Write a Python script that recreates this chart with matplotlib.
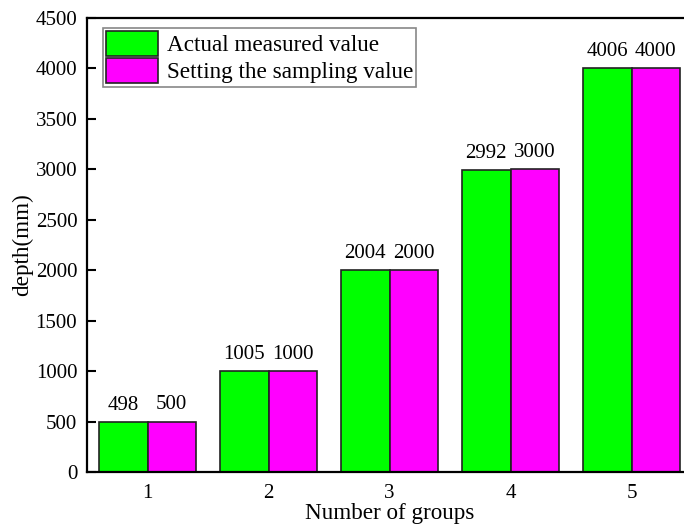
import matplotlib
matplotlib.use("Agg")
import matplotlib.pyplot as plt
import numpy as np

groups = ["1", "2", "3", "4", "5"]
actual = [498, 1005, 2004, 2992, 4006]
setting = [500, 1000, 2000, 3000, 4000]
series_names = ["Actual measured value", "Setting the sampling value"]
yticks = [0, 500, 1000, 1500, 2000, 2500, 3000, 3500, 4000, 4500]

plt.rcParams['font.family'] = ['Liberation Serif', 'DejaVu Serif']

fig = plt.figure(figsize=(6.84, 5.30), dpi=100)
ax = fig.add_axes([87/684, (530-472)/530, 605/684, 454/530])

x = np.arange(1, len(groups) + 1)
w = 0.4
ax.bar(x - w/2, actual, w, color='#00ff00', edgecolor='#222222', linewidth=1.2, label=series_names[0])
ax.bar(x + w/2, setting, w, color='#ff00ff', edgecolor='#222222', linewidth=1.2, label=series_names[1])

for xi, v in zip(x - w/2, actual):
    ax.text(xi, v + 70, str(v), ha='center', va='bottom', fontsize=15)
for xi, v in zip(x + w/2, setting):
    ax.text(xi, v + 70, str(v), ha='center', va='bottom', fontsize=15)

ax.set_xlim(0.5, 5.5)
ax.set_ylim(0, 4500)
ax.set_xticks(x)
ax.set_xticklabels(groups)
ax.set_yticks(yticks)
ax.tick_params(axis='y', direction='in', length=6.5, width=1.5, labelsize=15, pad=7)
ax.tick_params(axis='x', length=0, labelsize=15, pad=9)
for s in ax.spines.values():
    s.set_linewidth(1.6)
ax.set_xlabel("Number of groups", fontsize=16.7, labelpad=0)
ax.set_ylabel("depth(mm)", fontsize=16.7, labelpad=2)

leg = ax.legend(loc='upper left', bbox_to_anchor=(0.026, 0.979), fontsize=16.7,
                handlelength=2.25, handleheight=1.25, fancybox=False,
                edgecolor='#888888', framealpha=1, borderpad=0.15,
                labelspacing=0.1, handletextpad=0.35, borderaxespad=0)
leg.get_frame().set_linewidth(1.2)

fig.savefig("out.png", dpi=100)
